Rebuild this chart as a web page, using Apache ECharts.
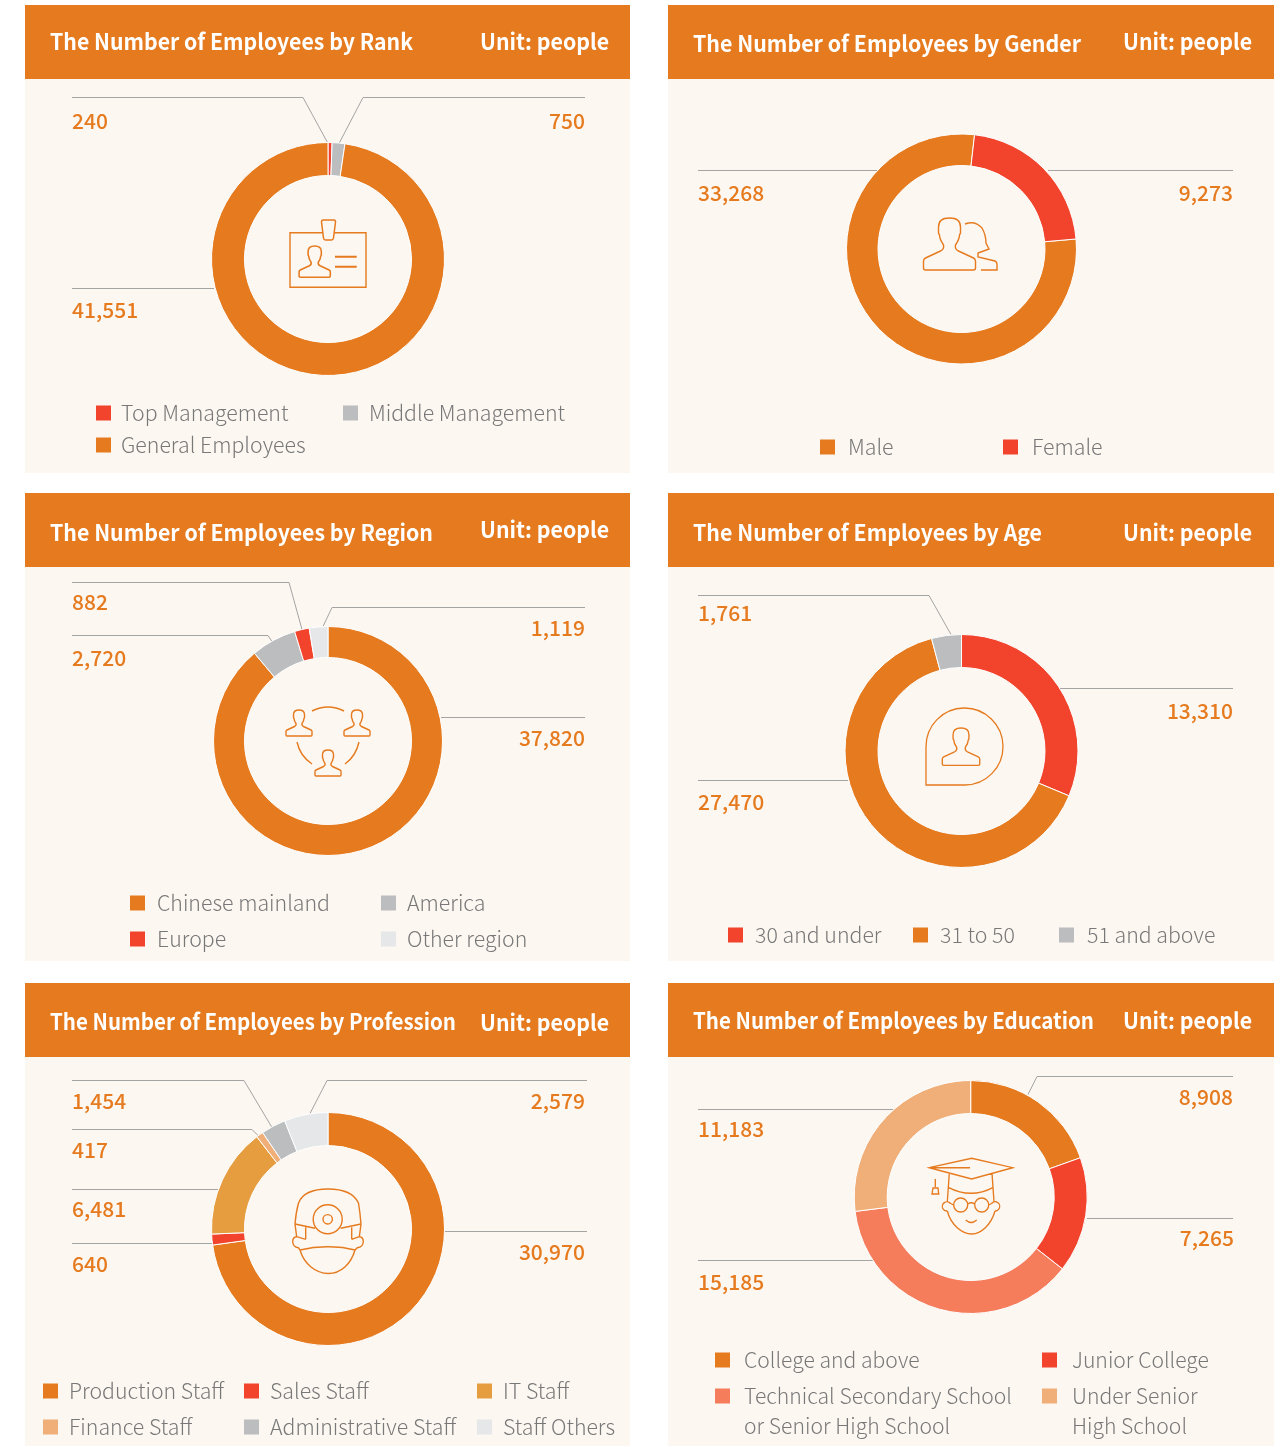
<!DOCTYPE html>
<html>
<head>
<meta charset="utf-8">
<script src="https://cdn.jsdelivr.net/npm/echarts@6/dist/echarts.min.js"></script>
<style>html,body{margin:0;padding:0;background:#fff}#c{width:1287px;height:1447px}</style>
</head>
<body>
<div id="c"></div>
<script>
// ---------- data ----------
const rankCategories = ['Top Management', 'Middle Management', 'General Employees'];
const rankValues = [240, 750, 41551];
const genderCategories = ['Male', 'Female'];
const genderValues = [33268, 9273];
const regionCategories = ['Chinese mainland', 'America', 'Europe', 'Other region'];
const regionValues = [37820, 2720, 882, 1119];
const ageCategories = ['30 and under', '31 to 50', '51 and above'];
const ageValues = [13310, 27470, 1761];
const professionCategories = ['Production Staff', 'Sales Staff', 'IT Staff', 'Finance Staff', 'Administrative Staff', 'Staff Others'];
const professionValues = [30970, 640, 6481, 417, 1454, 2579];
const educationCategories = ['College and above', 'Junior College', 'Technical Secondary School', 'Under Senior'];
const educationValues = [8908, 7265, 15185, 11183];
// The reference's education ring is not drawn in proportion to its printed numbers; these are the arc sizes (degrees).
const educationDrawnArcs = [70.3, 57.8, 134.8, 97.1];

const titles = ['The Number of Employees by Rank', 'The Number of Employees by Gender', 'The Number of Employees by Region',
  'The Number of Employees by Age', 'The Number of Employees by Profession', 'The Number of Employees by Education'];
const unitText = 'Unit: people';

// ---------- style ----------
const ORANGE = '#E67A1E', RED = '#F2432C', GRAY = '#BBBDBF', LIGHT = '#E6E7E9', AMBER = '#E59D40', PEACH = '#F0AE78', CORAL = '#F57D5C';
const PANEL = '#FCF7F1', LINE = '#A4A4A4', LEGEND_TEXT = '#787878';
const FONT = '"Noto Sans CJK SC","Noto Sans",sans-serif';
const TITLE_FONT = '700 22px ' + FONT;

// ---------- layout ----------
const panels = [
  { names: rankCategories, vals: rankValues, colors: [RED, GRAY, ORANGE], c: [328, 259], r: [83.5, 116.5], start: 90,
    box: [25, 5, 605, 468], titleY: 42, unitY: 42, titleW: 363,
    labels: [['left', 72, 121, [[72, 97], [303, 97], [328, 143]]],
             ['right', 585, 121, [[585, 97], [363, 97], [339, 143]]],
             ['left', 72, 310, [[72, 288], [214, 288]]]],
    legend: [[96, 121, 413, 0], [343, 369, 413, 1], [96, 121, 445, 2]] },
  { names: genderCategories, vals: genderValues, colors: [ORANGE, RED], c: [961.5, 249], r: [83.5, 115], start: 5,
    box: [668, 5, 606, 468], titleY: 44, unitY: 42, titleW: 388,
    labels: [['left', 698, 193, [[698, 170], [877, 170]]],
             ['right', 1233, 193, [[1233, 170], [1048, 170]]]],
    legend: [[820, 848, 447, 0], [1003, 1032, 447, 1]] },
  { names: regionCategories, vals: regionValues, colors: [ORANGE, GRAY, RED, LIGHT], c: [328, 741], r: [83.5, 114.5], start: 90,
    box: [25, 493, 605, 468], titleY: 533, unitY: 530, titleW: 383,
    labels: [['right', 585, 738, [[585, 717], [441, 717]]],
             ['left', 72, 658, [[72, 635], [268, 635], [274, 644]]],
             ['left', 72, 602, [[72, 582], [289, 582], [302, 629]]],
             ['right', 585, 628, [[585, 607], [332, 607], [323, 626]]]],
    legend: [[130, 157, 903, 0], [381, 407, 903, 1], [130, 157, 939, 2], [381, 407, 939, 3]] },
  { names: ageCategories, vals: ageValues, colors: [RED, ORANGE, GRAY], c: [961.5, 751], r: [83.5, 116.5], start: 90,
    box: [668, 493, 606, 468], titleY: 533, unitY: 533, titleW: 349,
    labels: [['right', 1233, 711, [[1233, 688], [1060, 688]]],
             ['left', 698, 802, [[698, 780], [848, 780]]],
             ['left', 698, 613, [[698, 595], [929, 595], [951, 634]]]],
    legend: [[728, 755, 935, 0], [913, 940, 935, 1], [1059, 1087, 935, 2]] },
  { names: professionCategories, vals: professionValues, colors: [ORANGE, RED, AMBER, PEACH, GRAY, LIGHT], c: [328, 1229], r: [83.5, 116.5], start: 90,
    box: [25, 983, 605, 463], titleY: 1022, unitY: 1023, titleW: 406,
    labels: [['right', 585, 1252, [[587, 1231], [444, 1231]]],
             ['left', 72, 1264, [[72, 1243], [213, 1243]]],
             ['left', 72, 1209, [[72, 1189], [219, 1189]]],
             ['left', 72, 1150, [[72, 1129], [252, 1129], [260, 1137]]],
             ['left', 72, 1101, [[72, 1080], [244, 1080], [272, 1127]]],
             ['right', 585, 1101, [[587, 1080], [327, 1080], [310, 1113]]]],
    legend: [[43, 69, 1391, 0], [244, 270, 1391, 1], [477, 503, 1391, 2], [43, 69, 1427, 3], [244, 270, 1427, 4], [477, 503, 1427, 5]] },
  { names: educationCategories, vals: educationValues, arcs: educationDrawnArcs, colors: [ORANGE, RED, CORAL, PEACH], c: [970.7, 1197], r: [83.5, 116.5], start: 90,
    box: [668, 983, 606, 463], titleY: 1021, unitY: 1021, titleW: 401,
    labels: [['right', 1233, 1097, [[1233, 1076], [1037, 1076], [1028, 1094]]],
             ['right', 1234, 1238, [[1233, 1218], [1087, 1218]]],
             ['left', 698, 1282, [[698, 1260], [873, 1260]]],
             ['left', 698, 1129, [[698, 1109], [893, 1109]]]],
    legend: [[715, 744, 1360, 0], [1042, 1072, 1360, 1], [715, 744, 1396, 2], [1042, 1072, 1396, 3]],
    legendSize: 21.15,
    extraLines: [['or Senior High School', 744, 1426], ['High School', 1072, 1426]] }
];

// ---------- icons ----------
const BUST = 'M-24,52 L24,52 Q26,52 26,50 L26,43 Q26,41 24,40 L9,33 Q5,31 6,27 Q10,21 10,17 L11,15 V9 Q11,0 0,0 Q-11,0 -11,9 V15 L-10,17 Q-10,21 -6,27 Q-5,31 -9,33 L-24,40 Q-26,41 -26,43 V50 Q-26,52 -24,52 Z';
const icons = [
  { d: 'M290,232.7 H366 V287.3 H290 Z', w: 1.4 },
  { d: 'M335,256.7 H356.7 M335,266.7 H356.7', w: 2 },
  { d: 'M323,220 H334 Q335.5,220 335.5,222 L333.5,238 Q333.2,240 331.5,240 H325.5 Q323.8,240 323.5,238 L321.5,222 Q321.5,220 323,220 Z', w: 1.5, fill: PANEL },
  { d: BUST, x: 314.7, y: 246, s: 0.6, w: 2.6 },
  { d: BUST, x: 949.5, y: 218, s: 1, w: 1.4 },
  { d: 'M965,224 Q975,220 982,228 Q986,235 986,243 L989,249 L978,253 V257 L995,261 Q997,262 997,264 V270 H981', w: 1.4 },
  { d: BUST, x: 299, y: 710, s: 0.5, w: 2.8 },
  { d: BUST, x: 357, y: 710, s: 0.5, w: 2.8 },
  { d: BUST, x: 328, y: 750, s: 0.5, w: 2.8 },
  { d: 'M312,711 Q328,703 344,711 M297,742 Q300,756 312,764 M359,742 Q356,756 345,764', w: 1.4 },
  { d: 'M926,785 V747 A38.5,38.5 0 1 1 964.5,785 Z', w: 1.3 },
  { d: BUST, x: 961, y: 728, s: 0.72, w: 1.9 },
  { d: 'M295,1224 Q296,1212 298.5,1203 Q304,1189 328,1189 Q352,1189 358.5,1203 Q360,1212 361,1224 L359.3,1237 M295,1224 L296.7,1237 ' +
       'M295,1224 L315,1228.3 M340.7,1228.3 L361,1224 M305.7,1227.3 V1239.3 M351.7,1227.3 V1239.3 ' +
       'M305.7,1239.3 L296.7,1236.7 Q292.7,1237 292.7,1241.7 Q293,1247 298.3,1247.7 L300,1250 M351.7,1239.3 L359.3,1236.7 Q363.3,1237 363.3,1241.7 Q363,1247 357.3,1247.7 L355,1250 ' +
       'M300,1250 Q314,1246.5 328.3,1246.7 Q342,1246.5 355,1250 M300,1250 C304,1264 316,1273.5 328.3,1273.5 C341,1273.5 351,1264 355,1250 ' +
       'M342.2,1219.3 A14.5,14.5 0 1 1 313.2,1219.3 A14.5,14.5 0 1 1 342.2,1219.3 Z M332.4,1219.3 A4.7,4.7 0 1 1 323,1219.3 A4.7,4.7 0 1 1 332.4,1219.3 Z', w: 1.4 },
  { d: 'M929.3,1167.7 L971.7,1158.3 L1012.7,1167.7 L971.7,1179 Z M929.3,1167.7 H970 M935.3,1179 V1187 M933,1188 H938 L938.7,1194 H932 Z ' +
       'M949.3,1173.3 L947.3,1201.7 M992,1173.3 L994,1201.7 M948.3,1187.3 Q971,1199.3 993.3,1187.3 ' +
       'M967.7,1205 A7,7 0 1 1 953.7,1205 A7,7 0 1 1 967.7,1205 Z M988.7,1205 A7,7 0 1 1 974.7,1205 A7,7 0 1 1 988.7,1205 Z M967.7,1204 Q971.2,1201.5 974.7,1204 M953.7,1205 L950.5,1203.5 M988.7,1205 L991.5,1203.5 ' +
       'M950.5,1203.5 A4.6,4.6 0 1 0 947.3,1211 M991.5,1203.5 A4.6,4.6 0 1 1 995,1211 M947.3,1211 C951,1225 962,1234 971.7,1234 C981,1234 991,1225 995,1211 M965.7,1220 Q971.2,1225 976.7,1220', w: 1.35 }
];

// ---------- option ----------
const measure = document.createElement('canvas').getContext('2d');
function fitScale(text, font, width) { measure.font = font; return width / measure.measureText(text).width; }

const graphicEls = [], legends = [], series = [];
panels.forEach((p, i) => {
  const [x, y, w, h] = p.box;
  graphicEls.push({ type: 'rect', z: 0, silent: true, shape: { x, y, width: w, height: h }, style: { fill: PANEL } });
  graphicEls.push({ type: 'rect', z: 1, silent: true, shape: { x, y, width: w, height: 74 }, style: { fill: ORANGE } });
  graphicEls.push({ type: 'text', z: 2, silent: true, x: x + 25, y: p.titleY, scaleX: fitScale(titles[i], TITLE_FONT, p.titleW),
    style: { text: titles[i], fill: '#fff', font: TITLE_FONT, textAlign: 'left', textVerticalAlign: 'middle' } });
  graphicEls.push({ type: 'text', z: 2, silent: true, x: x + 584, y: p.unitY, scaleX: fitScale(unitText, TITLE_FONT, 129),
    style: { text: unitText, fill: '#fff', font: TITLE_FONT, textAlign: 'right', textVerticalAlign: 'middle' } });
  const legendSize = p.legendSize || 21.3;
  (p.extraLines || []).forEach(t => graphicEls.push({ type: 'text', z: 2, silent: true, x: t[1], y: t[2],
    style: { text: t[0], fill: LEGEND_TEXT, font: '300 ' + legendSize + 'px ' + FONT, textAlign: 'left', textVerticalAlign: 'middle' } }));

  p.legend.forEach(l => legends.push({
    left: l[0], top: l[2] - 15, padding: 0, orient: 'horizontal', selectedMode: false,
    itemWidth: 15, itemHeight: 15, icon: 'rect', itemStyle: { borderWidth: 0 },
    data: [p.names[l[3]]],
    textStyle: { color: LEGEND_TEXT, fontFamily: FONT, fontWeight: 300, fontSize: legendSize, lineHeight: 30,
      padding: [0, 0, 0, l[1] - l[0] - 20] }
  }));

  const drawn = p.arcs || p.vals;
  series.push({
    type: 'pie', name: titles[i], center: p.c, radius: p.r, startAngle: p.start, clockwise: true,
    avoidLabelOverlap: false, silent: true, animation: false, minShowLabelAngle: 0,
    data: p.names.map((n, k) => ({ name: n, value: drawn[k], itemStyle: { color: p.colors[k] } })),
    itemStyle: { borderColor: '#fff', borderWidth: 1 },
    label: { show: true, position: 'outside', color: ORANGE, fontFamily: FONT, fontWeight: 500, fontSize: 21,
      formatter: q => p.vals[q.dataIndex].toLocaleString('en-US') },
    labelLine: { show: true, length: 10, length2: 10, lineStyle: { color: LINE, width: 1 } },
    labelLayout: q => {
      const a = p.labels[q.dataIndex];
      return { x: a[1], y: a[2], align: a[0], verticalAlign: 'middle', hideOverlap: false,
        labelLinePoints: a[3].map(pt => [pt[0], pt[1] + 0.5]) };
    }
  });
});

series.push({
  type: 'custom', coordinateSystem: 'none', silent: true, animation: false, z: 5, data: [0],
  renderItem: () => ({
    type: 'group',
    children: icons.map(ic => ({
      type: 'path', x: ic.x || 0, y: ic.y || 0, scaleX: ic.s || 1, scaleY: ic.s || 1,
      shape: { pathData: ic.d },
      style: { fill: ic.fill || 'none', stroke: ORANGE, lineWidth: ic.w }
    }))
  })
});

const chart = echarts.init(document.getElementById('c'), null, { renderer: 'canvas' });
chart.setOption({ animation: false, backgroundColor: '#fff', graphic: { elements: graphicEls }, legend: legends, series });
</script>
</body>
</html>
